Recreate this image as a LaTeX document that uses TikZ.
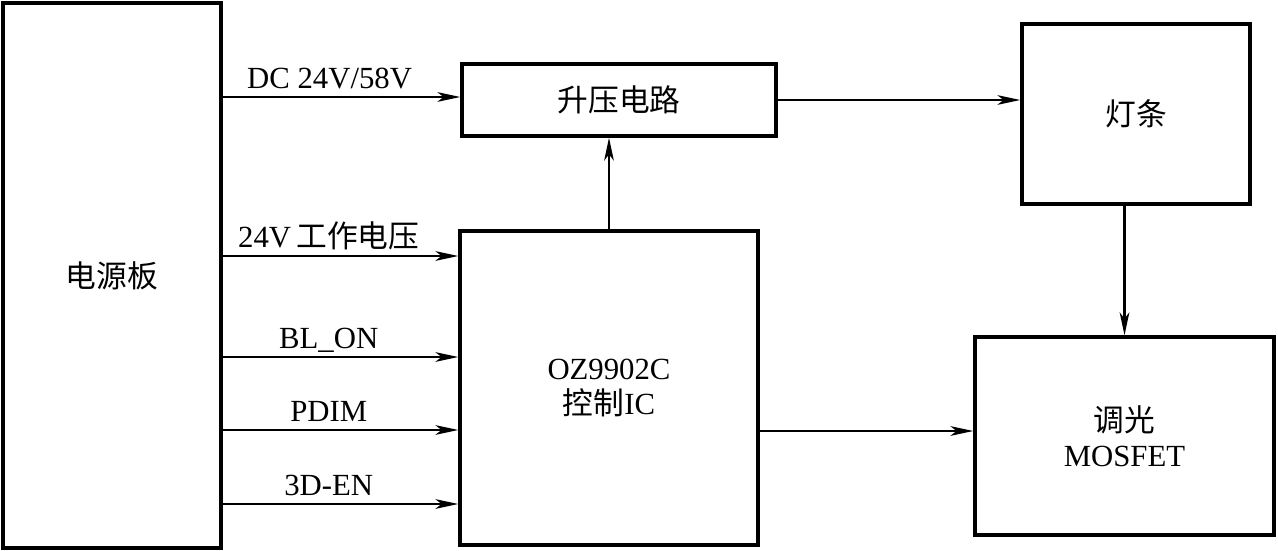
\documentclass[tikz,border=0pt]{standalone}
\usepackage{fontspec}
\setmainfont{Liberation Serif}
\newfontfamily\cjk{Noto Sans CJK SC}
\usetikzlibrary{arrows.meta}

\begin{document}
\begin{tikzpicture}[
  x=0.02cm, y=-0.02cm,
  font=\fontsize{17.5}{20}\selectfont,
  block/.style={draw,line width=2pt,inner sep=0pt,align=center},
  arrow/.style={-{Stealth[length=13pt,width=5.5pt,inset=3.5pt]},line width=1.2pt},
  sig/.style={pos=0.45,anchor=base,yshift=5pt}
]
  \useasboundingbox (0,0) rectangle (1278,551);

  \node[block,minimum width=4.36cm,minimum height=10.9cm] (power) at (112,275.5) {\cjk 电源板};
  \node[block,minimum width=6.28cm,minimum height=1.44cm] (boost) at (619,100) {\cjk 升压电路};
  \node[block,minimum width=4.56cm,minimum height=3.6cm] (ledbar) at (1136,114) {\cjk 灯条};
  \node[block,minimum width=5.96cm,minimum height=6.28cm] (ic) at (609,388) {OZ9902C\\{\cjk 控制}IC};
  \node[block,minimum width=5.98cm,minimum height=3.96cm] (mos) at (1124.5,436) {{\cjk 调光}\\MOSFET};

  \draw[arrow] (power.east |- 0,97) -- node[sig] {DC 24V/58V} (boost.west |- 0,97);
  \foreach \y/\txt in {256/{24V\,{\cjk 工作电压}},357/{BL\_ON},430/{PDIM},504/{3D-EN}} {
    \draw[arrow] (power.east |- 0,\y) -- node[sig] {\txt} (ic.west |- 0,\y);
  }

  \draw[arrow] (boost.east) -- (ledbar.west |- boost.east);
  \draw[arrow] (ic.north) -- (ic.north |- boost.south);
  \draw[arrow] (ledbar.south -| mos.north) -- (mos.north);
  \draw[arrow] (ic.east |- 0,431) -- (mos.west |- 0,431);
\end{tikzpicture}
\end{document}
